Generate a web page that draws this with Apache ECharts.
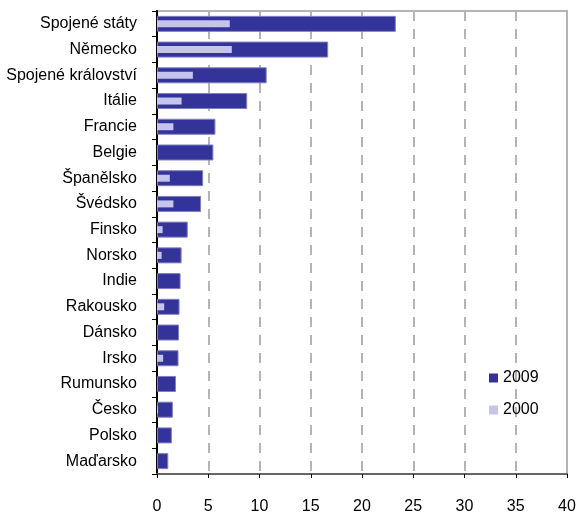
<!DOCTYPE html>
<html>
<head>
<meta charset="utf-8">
<script src="https://cdn.jsdelivr.net/npm/echarts@6/dist/echarts.min.js"></script>
<style>html,body{margin:0;padding:0;background:#fff;}#c{width:576px;height:512px;}</style>
</head>
<body>
<div id="c"></div>
<script>
const categories = ['Spojené státy','Německo','Spojené království','Itálie','Francie','Belgie','Španělsko','Švédsko','Finsko','Norsko','Indie','Rakousko','Dánsko','Irsko','Rumunsko','Česko','Polsko','Maďarsko'];
const values2009 = [23.3, 16.7, 10.7, 8.8, 5.7, 5.5, 4.5, 4.3, 3.0, 2.4, 2.3, 2.2, 2.15, 2.1, 1.85, 1.55, 1.45, 1.1];
const values2000 = [7.1, 7.3, 3.5, 2.4, 1.6, null, 1.25, 1.6, 0.55, 0.45, null, 0.7, null, 0.6, null, 0.1, null, null];
const xTicks = {min: 0, max: 40, interval: 5};

const chart = echarts.init(document.getElementById('c'), null, {renderer: 'canvas'});
const font = 'Arial, "Liberation Sans", sans-serif';
chart.setOption({
  animation: false,
  backgroundColor: '#ffffff',
  textStyle: {fontFamily: font},
  grid: {left: 157, right: 9, top: 11, bottom: 38, containLabel: false, outerBoundsMode: 'none', show: true, borderColor: '#b4b4b4', borderWidth: 2, backgroundColor: 'transparent'},
  legend: {
    orient: 'vertical', left: 484, top: 365, itemWidth: 9, itemHeight: 9, itemGap: 16,
    data: ['2009', '2000'],
    textStyle: {fontSize: 16, color: '#000', fontFamily: font},
    itemStyle: {borderWidth: 0},
    icon: 'rect'
  },
  xAxis: {
    type: 'value', min: xTicks.min, max: xTicks.max, interval: xTicks.interval,
    axisLine: {show: true, lineStyle: {color: '#666666', width: 2}},
    axisTick: {show: true, length: 4, lineStyle: {color: '#000', width: 1}},
    axisLabel: {fontSize: 16, color: '#000', margin: 25, fontFamily: font},
    splitLine: {show: true, lineStyle: {color: '#b4b4b4', width: 2, type: [10, 8]}}
  },
  yAxis: [
    {
      type: 'category', data: categories, inverse: true,
      axisLine: {show: true, lineStyle: {color: '#000', width: 2}},
      axisTick: {show: true, length: 5, lineStyle: {color: '#000', width: 1}},
      axisLabel: {fontSize: 16, color: '#000', margin: 20, fontFamily: font}
    },
    {
      type: 'category', data: categories, inverse: true, show: false
    }
  ],
  series: [
    {
      name: '2009', type: 'bar', yAxisIndex: 0, data: values2009, barWidth: 16,
      itemStyle: {color: '#333399', borderColor: '#7f7fc0', borderWidth: 1}
    },
    {
      name: '2000', type: 'bar', yAxisIndex: 1, data: values2000, barWidth: 7,
      itemStyle: {color: '#c4c4ec'}
    }
  ]
});
</script>
</body>
</html>
